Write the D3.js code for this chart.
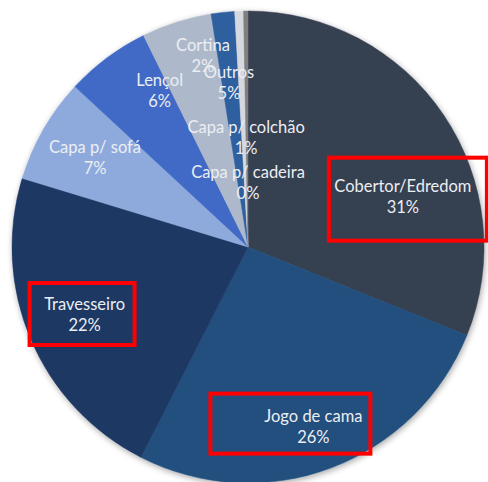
<!DOCTYPE html>
<html>
<head>
<meta charset="utf-8">
<script src="https://cdn.jsdelivr.net/npm/d3@7"></script>
<style>
  body { margin: 0; background: #fff; }
  svg { display: block; }
  .lbl { font-family: Lato, "Open Sans", sans-serif; font-size: 16.5px; fill: #eceef2; }
</style>
</head>
<body>
<svg id="chart" width="488" height="482"></svg>
<script>
// data, clockwise from 12 o'clock
var categories = ["Cobertor/Edredom", "Jogo de cama", "Travesseiro", "Capa p/ sofá", "Lençol",
                  "Outros", "Cortina", "Capa p/ colchão", "Capa p/ cadeira"];
var values = [31.1, 26.4, 22.2, 7.2, 5.8, 4.8, 1.6, 0.6, 0.3];
var colors = ["#343f51", "#22507e", "#1f3764", "#8eaadc", "#3f6bc6",
              "#adb9ca", "#2f5f9e", "#d5d8de", "#7f7f7f"];
var highlighted = ["Cobertor/Edredom", "Jogo de cama", "Travesseiro"];

// label placement: angle in degrees from top, radius as fraction of pie radius
var labelAngle = [72, 160, 247.4, 300.2, 330.5, 353.4, 346.7, 359, 0];
var labelRadius = [0.69, 0.81, 0.75, 0.75, 0.76, 0.70, 0.83, 0.46, 0.27];
// red box around label: offsets from label centre [left, top, right, bottom]
var boxPad = {
  "Cobertor/Edredom": [-74, -39, 84, 44],
  "Jogo de cama": [-103, -33, 57, 27],
  "Travesseiro": [-55, -32, 50, 30]
};

var cx = 248, cy = 247, r = 236;
var svg = d3.select("#chart");

var defs = svg.append("defs");
var f = defs.append("filter").attr("id", "shadow")
  .attr("x", "-10%").attr("y", "-10%").attr("width", "120%").attr("height", "120%");
f.append("feGaussianBlur").attr("in", "SourceAlpha").attr("stdDeviation", 3).attr("result", "b");
f.append("feOffset").attr("in", "b").attr("dx", 1).attr("dy", 2).attr("result", "o");
f.append("feComponentTransfer").attr("in", "o").attr("result", "s")
  .append("feFuncA").attr("type", "linear").attr("slope", 0.35);
var m = f.append("feMerge");
m.append("feMergeNode").attr("in", "s");
m.append("feMergeNode").attr("in", "SourceGraphic");

var g = svg.append("g").attr("transform", "translate(" + cx + "," + cy + ")");

var pie = d3.pie().sort(null).value(function(d) { return d; });
var arc = d3.arc().innerRadius(0).outerRadius(r);
var arcs = pie(values);
var total = d3.sum(values);

g.append("g").attr("filter", "url(#shadow)")
  .selectAll("path")
  .data(arcs)
  .enter()
  .append("path")
  .attr("d", arc)
  .attr("fill", function(d, i) { return colors[i]; })
  .attr("stroke", function(d, i) { return colors[i]; })
  .attr("stroke-width", 0.5);

function labelPos(i) {
  var a = labelAngle[i] * Math.PI / 180, rr = labelRadius[i] * r;
  return [Math.sin(a) * rr, -Math.cos(a) * rr];
}

var labels = g.append("g")
  .selectAll("text")
  .data(arcs)
  .enter()
  .append("text")
  .attr("class", "lbl")
  .attr("text-anchor", "middle")
  .attr("transform", function(d, i) { return "translate(" + labelPos(i) + ")"; });

labels.append("tspan")
  .attr("x", 0).attr("y", -5)
  .text(function(d, i) { return categories[i]; });
labels.append("tspan")
  .attr("x", 0).attr("y", 16)
  .text(function(d) { return Math.round(d.value / total * 100) + "%"; });

// red highlight boxes
g.append("g")
  .selectAll("rect")
  .data(highlighted)
  .enter()
  .append("rect")
  .attr("x", function(c) { return labelPos(categories.indexOf(c))[0] + boxPad[c][0]; })
  .attr("y", function(c) { return labelPos(categories.indexOf(c))[1] + boxPad[c][1]; })
  .attr("width", function(c) { return boxPad[c][2] - boxPad[c][0]; })
  .attr("height", function(c) { return boxPad[c][3] - boxPad[c][1]; })
  .attr("fill", "none")
  .attr("stroke", "#ff0000")
  .attr("stroke-width", 4);
</script>
</body>
</html>
